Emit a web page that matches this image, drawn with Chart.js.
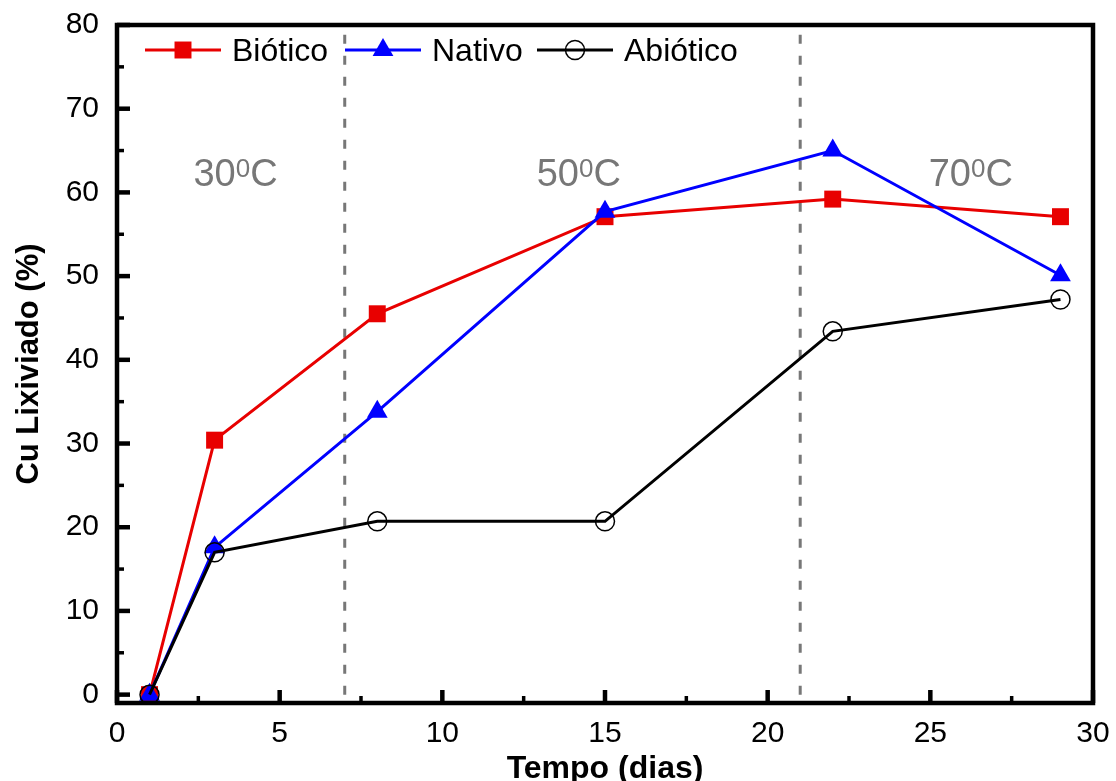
<!DOCTYPE html>
<html>
<head>
<meta charset="utf-8">
<script src="https://cdn.jsdelivr.net/npm/chart.js@4"></script>
<style>
  html, body { margin: 0; padding: 0; background: #fff; }
  #wrap { width: 1116px; height: 781px; }
</style>
</head>
<body>
<div id="wrap"><canvas id="myChart"></canvas></div>
<script>
// datos
const dias = [1, 3, 8, 15, 22, 29];
const biotico = [0, 30.4, 45.5, 57.1, 59.2, 57.1];
const nativo = [0, 17.6, 33.8, 57.7, 65.0, 50.1];
const abiotico = [0, 17.0, 20.7, 20.7, 43.4, 47.2];

const divisiones = [7, 21];          // líneas de cambio de temperatura
const temperaturas = ['30', '50', '70'];
const tempPosX = [2.35, 12.9, 24.95];
const tempPosY = 60.8;

const xTicks = [0, 2.5, 5, 7.5, 10, 12.5, 15, 17.5, 20, 22.5, 25, 27.5, 30];
const yTicks = [0, 5, 10, 15, 20, 25, 30, 35, 40, 45, 50, 55, 60, 65, 70, 75, 80];

const FONT = "'Liberation Sans', Arial, sans-serif";

function pts(xs, ys) {
    return xs.map((x, i) => ({ x: x, y: ys[i] }));
}

let datasets = [];
datasets.push({
    label: 'Biótico',
    data: pts(dias, biotico),
    borderColor: '#e80000',
    backgroundColor: '#e80000',
    borderWidth: 3,
    pointStyle: 'rect',
    pointRadius: 12,
    pointBorderWidth: 0,
    order: 3
});
datasets.push({
    label: 'Nativo',
    data: pts(dias, nativo),
    borderColor: '#0000ff',
    backgroundColor: '#0000ff',
    borderWidth: 3,
    pointStyle: 'triangle',
    pointRadius: 12,
    pointBorderWidth: 0,
    order: 2
});
datasets.push({
    label: 'Abiótico',
    data: pts(dias, abiotico),
    borderColor: '#000000',
    backgroundColor: 'rgba(0,0,0,0)',
    borderWidth: 3,
    pointStyle: 'circle',
    pointRadius: 9.5,
    pointBorderWidth: 1.5,
    order: 1
});
for (let d of divisiones) {
    datasets.push({
        label: '',
        data: [{ x: d, y: 0 }, { x: d, y: 80 }],
        borderColor: '#777777',
        borderWidth: 3,
        borderDash: [9, 12],
        pointRadius: 0,
        order: 5
    });
}

// marco, marcas de ejes, leyenda y etiquetas de temperatura
const decoPlugin = {
    id: 'deco',
    afterDraw(chart) {
        const ctx = chart.ctx;
        const a = chart.chartArea;
        const xs = chart.scales.x;
        const ys = chart.scales.y;
        ctx.save();
        ctx.strokeStyle = '#000';
        ctx.lineCap = 'butt';

        // marcas eje y
        for (let v of yTicks) {
            const py = ys.getPixelForValue(v);
            const major = v % 10 === 0;
            ctx.lineWidth = major ? 4.5 : 3.5;
            ctx.beginPath();
            ctx.moveTo(a.left, py);
            ctx.lineTo(a.left + (major ? 13 : 7), py);
            ctx.stroke();
        }
        // marcas eje x
        for (let v of xTicks) {
            const px = xs.getPixelForValue(v);
            const major = v % 5 === 0;
            ctx.lineWidth = major ? 4.5 : 3.5;
            ctx.beginPath();
            ctx.moveTo(px, a.bottom);
            ctx.lineTo(px, a.bottom - (major ? 13 : 7));
            ctx.stroke();
        }
        // marco
        ctx.lineWidth = 4.5;
        ctx.strokeRect(a.left, a.top, a.right - a.left, a.bottom - a.top);

        // leyenda
        const legX = [145, 345, 537];
        const legY = 50;
        ctx.font = '32px ' + FONT;
        ctx.textBaseline = 'alphabetic';
        for (let i = 0; i < 3; i++) {
            const ds = chart.data.datasets[i];
            const x0 = legX[i];
            ctx.strokeStyle = ds.borderColor;
            ctx.lineWidth = 3;
            ctx.beginPath();
            ctx.moveTo(x0, legY);
            ctx.lineTo(x0 + 76, legY);
            ctx.stroke();
            ctx.fillStyle = ds.backgroundColor;
            ctx.lineWidth = ds.pointBorderWidth;
            Chart.helpers.drawPoint(ctx, {
                pointStyle: ds.pointStyle,
                radius: ds.pointRadius,
                rotation: 0,
                borderWidth: ds.pointBorderWidth
            }, x0 + 38, legY);
            ctx.fillStyle = '#000';
            ctx.fillText(ds.label, x0 + 87, 61);
        }

        // temperaturas
        ctx.fillStyle = '#777777';
        for (let i = 0; i < temperaturas.length; i++) {
            let px = xs.getPixelForValue(tempPosX[i]);
            const py = ys.getPixelForValue(tempPosY);
            ctx.font = '38px ' + FONT;
            ctx.fillText(temperaturas[i], px, py);
            px += ctx.measureText(temperaturas[i]).width;
            ctx.font = '26px ' + FONT;
            ctx.fillText('0', px, py - 9);
            px += ctx.measureText('0').width;
            ctx.font = '38px ' + FONT;
            ctx.fillText('C', px, py);
        }
        ctx.restore();
    }
};

const ctx = document.getElementById('myChart');
new Chart(ctx, {
    type: 'line',
    data: { datasets: datasets },
    options: {
        responsive: true,
        maintainAspectRatio: false,
        animation: false,
        layout: { autoPadding: false, padding: { left: 0, right: 23, top: 25, bottom: 0 } },
        elements: { line: { tension: 0 } },
        plugins: {
            legend: { display: false },
            tooltip: { enabled: false }
        },
        scales: {
            x: {
                type: 'linear',
                min: 0,
                max: 30,
                grid: { display: false, drawTicks: false },
                border: { display: false },
                afterBuildTicks: (scale) => { scale.ticks = xTicks.map(v => ({ value: v })); },
                afterFit: (scale) => {
                    scale.height = 78;
                    scale.paddingLeft = 0;
                    scale.paddingRight = 0;
                },
                ticks: {
                    autoSkip: false,
                    maxRotation: 0,
                    padding: 13,
                    color: '#000',
                    font: { family: FONT, size: 30 },
                    callback: (v) => (v % 5 === 0 ? v : '')
                },
                title: {
                    display: true,
                    text: 'Tempo (dias)',
                    color: '#000',
                    padding: 0,
                    font: { family: FONT, size: 32, weight: 'bold', lineHeight: 0.75 }
                }
            },
            y: {
                min: -1,
                max: 80,
                grid: { display: false, drawTicks: false },
                border: { display: false },
                afterBuildTicks: (scale) => { scale.ticks = yTicks.map(v => ({ value: v })); },
                afterFit: (scale) => {
                    scale.width = 117;
                    scale.paddingTop = 0;
                    scale.paddingBottom = 0;
                },
                ticks: {
                    autoSkip: false,
                    padding: 18,
                    color: '#000',
                    font: { family: FONT, size: 30 },
                    callback: (v) => (v % 10 === 0 ? v : '')
                },
                title: {
                    display: true,
                    text: 'Cu Lixiviado (%)',
                    color: '#000',
                    padding: { top: 11, bottom: 0 },
                    font: { family: FONT, size: 31, weight: 'bold', lineHeight: 1.2 }
                }
            }
        }
    },
    plugins: [decoPlugin]
});
</script>
</body>
</html>
